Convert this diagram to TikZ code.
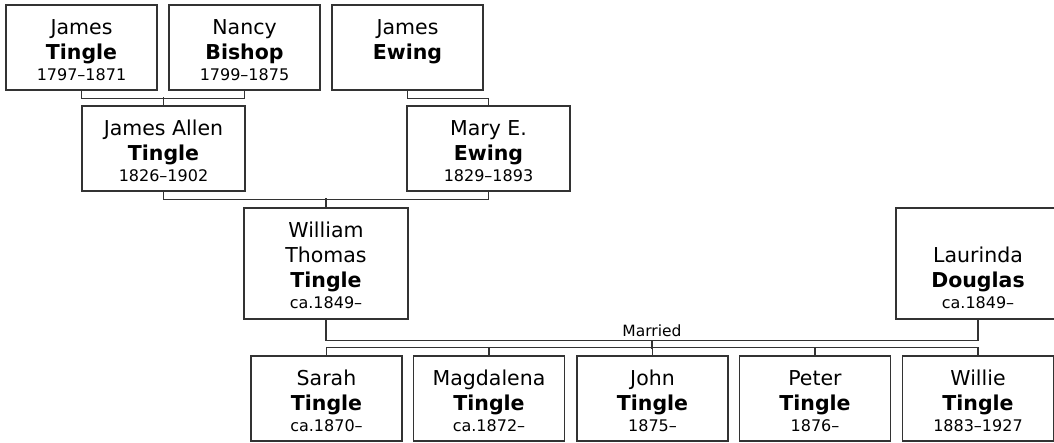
\documentclass[tikz,border=0pt]{standalone}
\usepackage{fontspec}
\setmainfont{DejaVu Sans}
\usetikzlibrary{calc}
\newcommand\yrfont{\fontsize{16}{20}\selectfont}
\newcommand\topstrut{\rule{0pt}{20pt}}
\definecolor{edge}{HTML}{333333}
\begin{document}
\begin{tikzpicture}[x=1pt,y=-1pt,
  person/.style={draw=edge, line width=1.4pt, fill=white, inner sep=0pt,
    align=center, font=\fontsize{20.5}{25}\selectfont, text=black},
  small/.style={person, minimum width=151pt, minimum height=85pt},
  mid/.style={person, minimum width=163pt, minimum height=85pt},
  tall/.style={person, minimum width=164pt, minimum height=111pt},
  conn/.style={draw=edge, line width=1.4pt},
  lbl/.style={font=\fontsize{15.5}{18}\selectfont, inner sep=0pt, anchor=base}]
\useasboundingbox (0,0) rectangle (1054,442);
\clip (0,0) rectangle (1054,442);
% generation 1
\node[small] (jt) at (81.5,47.5) {\topstrut James\\ \textbf{Tingle}\\[-4pt] {\yrfont 1797–1871}};
\node[small] (nb) at (244.5,47.5) {\topstrut Nancy\\ \textbf{Bishop}\\[-4pt] {\yrfont 1799–1875}};
\node[small] (je) at (407.5,47.5) {\topstrut James\\ \textbf{Ewing}\\[-4pt] \mbox{}};
% generation 2
\node[mid] (ja) at (163.5,148.5) {\topstrut James Allen\\ \textbf{Tingle}\\[-4pt] {\yrfont 1826–1902}};
\node[mid] (me) at (488.5,148.5) {\topstrut Mary E.\\ \textbf{Ewing}\\[-4pt] {\yrfont 1829–1893}};
% generation 3
\node[tall] (wt) at (326,263.5) {\topstrut William\\ Thomas\\ \textbf{Tingle}\\[-4pt] {\yrfont ca.1849–}};
\node[tall] (ld) at (978,263.5) {\topstrut\\ Laurinda\\ \textbf{Douglas}\\[-4pt] {\yrfont ca.1849–}};
% children
\node[small] (c1) at (326.5,398.5) {\topstrut Sarah\\ \textbf{Tingle}\\[-4pt] {\yrfont ca.1870–}};
\node[small] (c2) at (489,398.5) {\topstrut Magdalena\\ \textbf{Tingle}\\[-4pt] {\yrfont ca.1872–}};
\node[small] (c3) at (652.5,398.5) {\topstrut John\\ \textbf{Tingle}\\[-4pt] {\yrfont 1875–}};
\node[small] (c4) at (815,398.5) {\topstrut Peter\\ \textbf{Tingle}\\[-4pt] {\yrfont 1876–}};
\node[small] (c5) at (978,398.5) {\topstrut Willie\\ \textbf{Tingle}\\[-4pt] {\yrfont 1883–1927}};
% connectors
\draw[conn] (jt.south) -- ++(0,8) -| (nb.south);
\draw[conn] (ja.north) -- ++(0,-8);
\draw[conn] (je.south) -- ++(0,8) -| (me.north);
\draw[conn] (ja.south) -- ++(0,8) -| (me.south);
\draw[conn] (wt.north) -- ++(0,-9);
\draw[conn] (wt.south) -- ++(0,21) -| (ld.south);
\coordinate (mm) at ($(wt.south)!0.5!(ld.south)+(0,21)$);
\node[lbl] (married) at ($(mm)+(0,-4)$) {Married};
\draw[conn] (mm) -- ++(0,8);
\draw[conn] (c1.north) -- ++(0,-8) -| (c5.north);
\draw[conn] (c2.north) -- ++(0,-8);
\draw[conn] (c3.north) -- ++(0,-8);
\draw[conn] (c4.north) -- ++(0,-8);
\end{tikzpicture}
\end{document}
